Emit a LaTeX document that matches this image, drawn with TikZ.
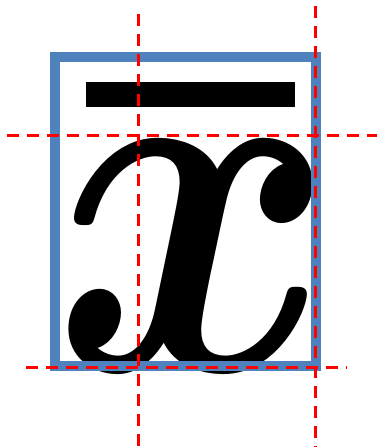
\documentclass[tikz,border=0pt]{standalone}
\usepackage{bm}
\usepackage{graphicx}
\definecolor{boxblue}{HTML}{4F81BD}
\tikzset{
  guide/.style={draw=red, line width=3pt, dash pattern=on 12pt off 8pt},
  frame/.style={draw=boxblue, line width=10pt},
}
\begin{document}
\begin{tikzpicture}[x=1pt,y=-1pt]
\useasboundingbox (0,0) rectangle (377,447);
\node[inner sep=0pt, anchor=north west] (glyph) at (52,142) {\resizebox{283pt}{228pt}{$\bm{x}$}};
\draw[frame] (54.5,56.5) rectangle (315.5,366);
\fill[black] (86,82) rectangle (295,107);
\draw[guide] (138.3,14) -- (138.3,447);
\draw[guide] (315.5,6) -- (315.5,447);
\draw[guide] (7,135) -- (377,135);
\draw[guide] (26,367) -- (347,367);
\end{tikzpicture}
\end{document}
